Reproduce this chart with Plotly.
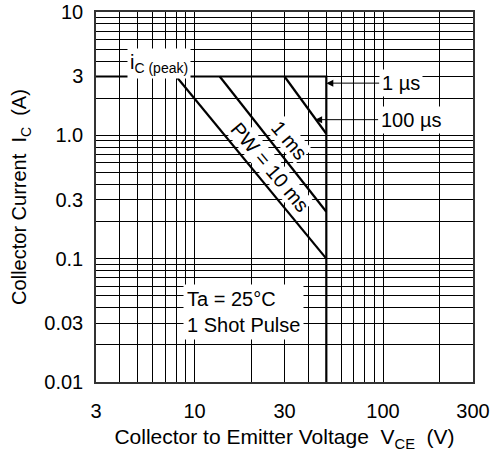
import numpy as np
import plotly.graph_objects as go

# ---- data ----
x_grid = [3, 4, 5, 6, 7, 8, 9, 10, 20, 30, 40, 50, 60, 70, 80, 90, 100, 200, 300]
x_tickvals = [3, 10, 30, 100, 300]
x_ticktext = ["3", "10", "30", "100", "300"]
y_grid = [0.01, 0.02, 0.03, 0.04, 0.05, 0.06, 0.07, 0.08, 0.09,
          0.1, 0.2, 0.3, 0.4, 0.5, 0.6, 0.7, 0.8, 0.9,
          1, 2, 3, 4, 5, 6, 7, 8, 9, 10]
y_tickvals = [0.01, 0.03, 0.1, 0.3, 1, 3, 10]
y_ticktext = ["0.01", "0.03", "0.1", "0.3", "1.0", "3", "10"]

# SOA boundary: Ic(peak) line then VCE limit
boundary_v = [3, 50, 50]
boundary_i = [3, 3, 0.01]

# pulse-width lines (start at Ic peak, end at VCE max)
pw_100us_v = [30, 50]
pw_100us_i = [3, 1.03]
pw_1ms_v = [13.6, 50]
pw_1ms_i = [3, 0.24]
pw_10ms_v = [8.0, 50]
pw_10ms_i = [3, 0.1]

# label positions (data units)
lbl_peak = (6.5, 3.85)
lbl_1us = (124, 2.65)
arr_1us = (50, 2.65)
lbl_100us = (140, 1.34)
arr_100us = (43.6, 1.34)
lbl_1ms = (31.8, 0.92)
lbl_10ms = (25.0, 0.55)
lbl_ta = (18.1, 0.037)

FONT = "Liberation Sans, Arial, sans-serif"
FS = 20
L = np.log10

fig = go.Figure()
for vx, iy in [(boundary_v, boundary_i), (pw_100us_v, pw_100us_i),
               (pw_1ms_v, pw_1ms_i), (pw_10ms_v, pw_10ms_i)]:
    fig.add_trace(go.Scatter(x=vx, y=iy, mode="lines",
                             line=dict(color="black", width=2.2),
                             showlegend=False, hoverinfo="skip"))

ann = []
ann.append(dict(x=L(lbl_peak[0]), y=L(lbl_peak[1]), xref="x", yref="y",
                text="i<sub>C (peak)</sub>", showarrow=False,
                font=dict(size=FS, color="black", family=FONT),
                bgcolor="white", borderpad=2))
for (lx, ly), (tx, ty), txt in [(lbl_1us, arr_1us, "1 µs"),
                                (lbl_100us, arr_100us, "100 µs")]:
    ann.append(dict(x=L(tx), y=L(ty), ax=L(lx), ay=L(ly), xref="x", yref="y",
                    axref="x", ayref="y", text=txt, showarrow=True,
                    arrowhead=2, arrowsize=1.4, arrowwidth=1, arrowcolor="black",
                    font=dict(size=FS, color="black", family=FONT),
                    bgcolor="white", borderpad=2))
ann.append(dict(x=L(lbl_1ms[0]), y=L(lbl_1ms[1]), xref="x", yref="y",
                text="1 ms", showarrow=False, textangle=50,
                font=dict(size=FS, color="black", family=FONT),
                bgcolor="white", borderpad=0))
ann.append(dict(x=L(lbl_10ms[0]), y=L(lbl_10ms[1]), xref="x", yref="y",
                text="PW = 10 ms", showarrow=False, textangle=50,
                font=dict(size=FS, color="black", family=FONT),
                bgcolor="white", borderpad=0))
ann.append(dict(x=L(lbl_ta[0]), y=L(lbl_ta[1]), xref="x", yref="y",
                text="Ta = 25°C<br>1 Shot Pulse", showarrow=False, align="left",
                font=dict(size=FS, color="black", family=FONT),
                bgcolor="white", borderpad=3))

fig.update_layout(
    width=503, height=455,
    margin=dict(l=96, r=30, t=12, b=73),
    paper_bgcolor="white", plot_bgcolor="white",
    font=dict(family=FONT, size=FS, color="black"),
    annotations=ann,
    xaxis=dict(type="log", range=[L(3), L(300)], automargin=False,
               tickmode="array", tickvals=x_tickvals, ticktext=x_ticktext,
               showgrid=True, gridcolor="black", gridwidth=1,
               minor=dict(tickmode="array", tickvals=x_grid, showgrid=True,
                          gridcolor="black", gridwidth=1, ticks=""),
               showline=True, linecolor="#333", linewidth=1.5, mirror=True,
               ticks="", zeroline=False, ticklabelstandoff=10,
               title=dict(text="Collector to Emitter Voltage  V<sub>CE</sub>  (V)",
                          font=dict(size=21), standoff=9)),
    yaxis=dict(type="log", range=[L(0.01), L(10)], automargin=False,
               tickmode="array", tickvals=y_tickvals, ticktext=y_ticktext,
               showgrid=True, gridcolor="black", gridwidth=1,
               minor=dict(tickmode="array", tickvals=y_grid, showgrid=True,
                          gridcolor="black", gridwidth=1, ticks=""),
               showline=True, linecolor="#333", linewidth=1.5, mirror=True,
               ticks="", zeroline=False, ticklabelstandoff=7,
               title=dict(text="Collector Current  I<sub>C</sub>  (A)",
                          font=dict(size=FS), standoff=12)),
)
fig.write_html("out.html", config={"displayModeBar": False},
               post_script="document.body.style.margin='0px';document.body.style.overflow='hidden';")
